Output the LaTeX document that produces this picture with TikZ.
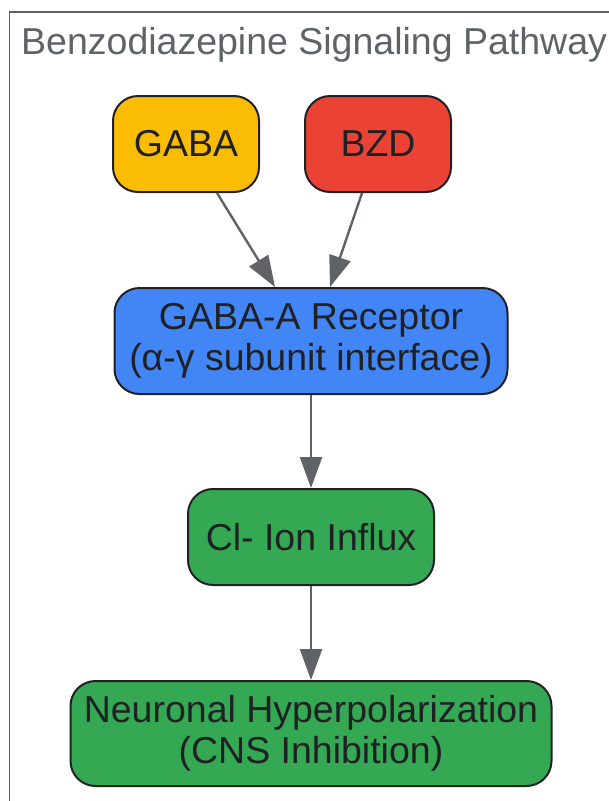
\documentclass[tikz,border=0pt]{standalone}
\usepackage{fontspec}
\setmainfont{Liberation Sans}
\usetikzlibrary{positioning, calc, arrows.meta}
\definecolor{framegrey}{HTML}{5F6368}
\definecolor{inkdark}{HTML}{202124}
\definecolor{gabayellow}{HTML}{FBBC04}
\definecolor{bzdred}{HTML}{EA4335}
\definecolor{recblue}{HTML}{4285F4}
\definecolor{effgreen}{HTML}{34A853}

\begin{document}
\begin{tikzpicture}[
			x=1pt, y=-1pt,
			node distance=93pt,
			font=\fontsize{37.5}{41}\selectfont,
			default_node/.style={
				rectangle,
				rounded corners=25pt,
				draw=inkdark,
				line width=2pt,
				text=inkdark,
				align=center,
				minimum height=96pt
			},
			title_node/.style={
				text=framegrey,
				anchor=west,
				inner sep=0pt
			},
			line/.style={
				-{Triangle[length=31pt, width=22pt]},
				draw=framegrey,
				line width=2.4pt
			}
			]
			
			\useasboundingbox (0,0) rectangle (609,801);
			\clip (0,0) rectangle (609,801);
			
			% Frame
			
			\draw[framegrey, line width=1.6pt] (9.5,12) rectangle (640,830);
			\node [title_node] (title) at (21,45) {Benzodiazepine Signaling Pathway};
			
			% Nodes
			
			\node [default_node, fill=gabayellow, minimum width=146pt] (gaba) at (186,144) {GABA};
			\node [default_node, fill=bzdred, minimum width=146pt] (bzd) at (378,144) {BZD};
			
			\node [default_node, fill=recblue, minimum width=393pt, minimum height=106pt] (receptor) at (311,341) {GABA-A Receptor\\(α-γ subunit interface)};
			\node [default_node, fill=effgreen, minimum width=246pt, below=of receptor] (influx) {Cl- Ion Influx};
			\node [default_node, fill=effgreen, minimum width=481pt, minimum height=105pt, below=94pt of influx] (hyperpol) {Neuronal Hyperpolarization\\(CNS Inhibition)};
			
			% Connections
			
			\draw[line] ($(gaba.south)+(31,0)$) -- ($(receptor.north)+(-36,0)$);
			\draw[line] ($(bzd.south)+(-16,0)$) -- ($(receptor.north)+(19,0)$);
			\draw[line] (receptor) -- (influx);
			\draw[line] (influx) -- (hyperpol);
			
		\end{tikzpicture}
\end{document}
